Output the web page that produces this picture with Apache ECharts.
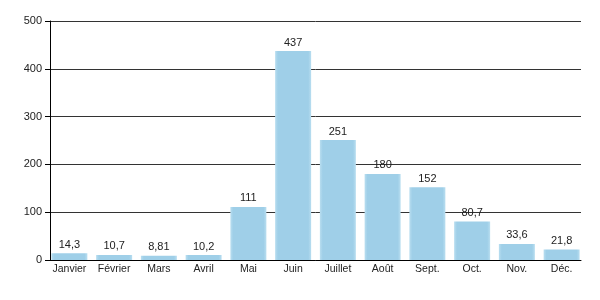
<!DOCTYPE html>
<html><head><meta charset="utf-8">
<script src="https://cdn.jsdelivr.net/npm/echarts@6/dist/echarts.min.js"></script>
<style>html,body{margin:0;padding:0;background:#fff}#c{width:600px;height:300px}</style>
</head><body><div id="c"></div>
<script>
var categories = ['Janvier','Février','Mars','Avril','Mai','Juin','Juillet','Août','Sept.','Oct.','Nov.','Déc.'];
var values = [14.3, 10.7, 8.81, 10.2, 111, 437, 251, 180, 152, 80.7, 33.6, 21.8];
var yTicks = [0, 100, 200, 300, 400, 500];

var font = 'Liberation Sans, Arial, sans-serif';
var chart = echarts.init(document.getElementById('c'), null, {renderer:'canvas'});
chart.setOption({
  animation: false,
  grid: [
    {left: 50, right: 19, top: 21, bottom: 40},
    {left: 47, right: 16, top: 21, bottom: 40}
  ],
  xAxis: [
    {gridIndex: 0, type: 'category', data: categories, show: true,
     axisLine: {show: true, lineStyle: {color: '#000', width: 1}},
     axisTick: {show: false}, axisLabel: {show: false}},
    {gridIndex: 1, type: 'category', data: categories,
     axisLine: {show: false}, axisTick: {show: false},
     axisLabel: {interval: 0, color: '#222', fontSize: 10.5, fontFamily: font, margin: 4}}
  ],
  yAxis: [
    {gridIndex: 0, type: 'value', min: yTicks[0], max: yTicks[yTicks.length-1], interval: 100,
     axisLine: {show: true, lineStyle: {color: '#000', width: 1}},
     axisTick: {show: true, length: 5, lineStyle: {color: '#000'}},
     axisLabel: {color: '#222', fontSize: 11, fontFamily: font, margin: 8},
     splitLine: {show: true, lineStyle: {color: '#333', width: 1}}},
    {gridIndex: 1, type: 'value', min: yTicks[0], max: yTicks[yTicks.length-1], interval: 100,
     show: false, splitLine: {show: false}}
  ],
  series: [{
    type: 'bar', xAxisIndex: 1, yAxisIndex: 1,
    data: values, barWidth: 36,
    itemStyle: {color: new echarts.graphic.LinearGradient(0,0,1,0,[
      {offset:0, color:'#b9def0'},{offset:0.08, color:'#9fcfe8'},
      {offset:0.92, color:'#9fcfe8'},{offset:1, color:'#b9def0'}])},
    label: {show: true, position: 'top', distance: 3, color: '#222', fontSize: 11, fontFamily: font,
      formatter: function(p){ return String(p.value).replace('.', ','); }}
  }]
});
</script></body></html>
